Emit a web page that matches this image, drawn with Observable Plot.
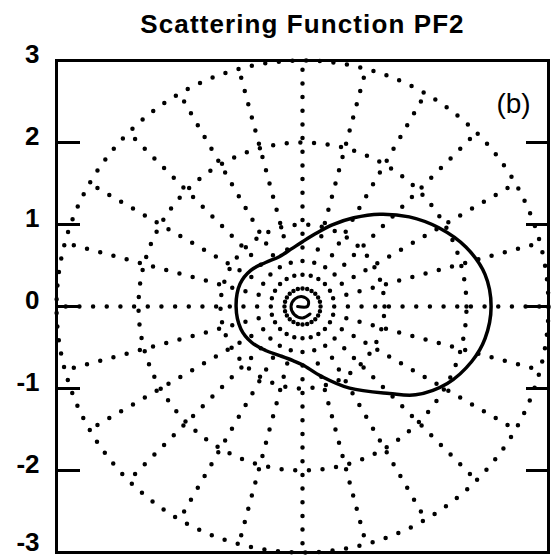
<!DOCTYPE html>
<html>
<head>
<meta charset="utf-8">
<script src="https://cdn.jsdelivr.net/npm/d3@7"></script>
<script src="https://cdn.jsdelivr.net/npm/@observablehq/plot@0.6"></script>
<style>
  html, body { margin: 0; padding: 0; background: white; }
</style>
</head>
<body>
<div id="chart"></div>
<script>
// ---- data ----
const title = "Scattering Function PF2";
const panelLabel = "(b)";
const yTicks = [-3, -2, -1, 0, 1, 2, 3];
const yLabels = ["-3", "-2", "-1", "0", "1", "2", "3"];
const yTickMarks = [-2, -1, 0, 1, 2];
const gridRadii = [1, 2, 3];
const spokeAngles = [0, 15, 30, 45, 60, 75, 90, 105, 120, 135, 150, 165, 180, 195, 210, 225, 240, 255, 270, 285, 300, 315, 330, 345];
const spokeStart = 0.22;
const spokeEnd = 3;

// phase function curve (angle in degrees, radius in axis units)
const pfAngle  = [0, 10, 20, 30, 40, 50, 60, 70, 80, 90, 100, 115, 130, 145, 160, 180, 200, 215, 230, 245, 260, 270, 285, 300, 315, 322, 332, 342, 350];
const pfRadius = [2.30, 2.26, 2.12, 1.92, 1.70, 1.47, 1.25, 1.06, 0.90, 0.79, 0.72, 0.67, 0.70, 0.77, 0.81, 0.81, 0.80, 0.76, 0.70, 0.66, 0.67, 0.71, 0.88, 1.15, 1.50, 1.75, 2.00, 2.17, 2.26];

// small curl at the centre
const curlAngle  = [180, 0, 45, 90, 135, 180, 225, 270, 315];
const curlRadius = [0.06, 0.06, 0.10, 0.12, 0.13, 0.14, 0.14, 0.14, 0.13];

// ---- derived geometry ----
const rad = d => d * Math.PI / 180;
const circlePts = [];
for (const r of gridRadii) {
  for (let a = 0; a <= 360; a += 2) circlePts.push({r, x: r * Math.cos(rad(a)), y: r * Math.sin(rad(a))});
}
const spokePts = [];
for (const a of spokeAngles) {
  spokePts.push({a, x: spokeStart * Math.cos(rad(a)), y: spokeStart * Math.sin(rad(a))});
  spokePts.push({a, x: spokeEnd * Math.cos(rad(a)), y: spokeEnd * Math.sin(rad(a))});
}
const pfPts = pfAngle.map((a, i) => ({x: pfRadius[i] * Math.cos(rad(a)), y: pfRadius[i] * Math.sin(rad(a))}));
const curlPts = curlAngle.map((a, i) => ({x: curlRadius[i] * Math.cos(rad(a)), y: curlRadius[i] * Math.sin(rad(a))}));

const W = 551, H = 557;
const mL = 56, mR = 3, mT = 60, mB = 5;
const frameW = W - mL - mR;

const dotted = {stroke: "black", strokeWidth: 4.5, strokeLinecap: "round", strokeDasharray: "0 13.67"};
const labelFmt = d => yLabels[yTicks.indexOf(d)];
const labelStyle = {anchor: "left", label: null, tickSize: 0, tickPadding: 17, tickFormat: labelFmt, fontSize: 26, fontWeight: "bold"};

const chart = Plot.plot({
  width: W,
  height: H,
  marginLeft: mL,
  marginRight: mR,
  marginTop: mT,
  marginBottom: mB,
  x: {domain: [-3, 3], axis: null},
  y: {domain: [-3, 3], axis: null},
  style: {fontFamily: "'Liberation Sans', Arial, sans-serif", background: "white", color: "black"},
  marks: [
    Plot.line(circlePts, {x: "x", y: "y", z: "r", ...dotted}),
    Plot.line(spokePts, {x: "x", y: "y", z: "a", ...dotted}),
    Plot.line(pfPts, {x: "x", y: "y", curve: "catmull-rom-closed", stroke: "black", strokeWidth: 3.5}),
    Plot.line(curlPts, {x: "x", y: "y", curve: "catmull-rom", stroke: "black", strokeWidth: 3}),
    Plot.frame({stroke: "black", strokeWidth: 3}),
    Plot.tickY(yTickMarks, {y: d => d, insetRight: frameW - 24, stroke: "black", strokeWidth: 3}),
    Plot.tickY(yTickMarks, {y: d => d, insetLeft: frameW - 22, stroke: "black", strokeWidth: 3}),
    Plot.axisY(yTicks.filter(d => d > -3), {...labelStyle, dy: -6}),
    Plot.axisY(yTicks.filter(d => d === -3), {...labelStyle, dy: -10}),
    Plot.text([title], {frameAnchor: "top", dy: -28, lineAnchor: "bottom", fontSize: 26, fontWeight: "bold", className: "title-text"}),
    Plot.text([panelLabel], {frameAnchor: "top-right", dx: -35, dy: 52, lineAnchor: "bottom", fontSize: 28, textAnchor: "middle"})
  ]
});
d3.select(chart).selectAll(".title-text text").attr("letter-spacing", "1.1");
document.getElementById("chart").appendChild(chart);
</script>
</body>
</html>
